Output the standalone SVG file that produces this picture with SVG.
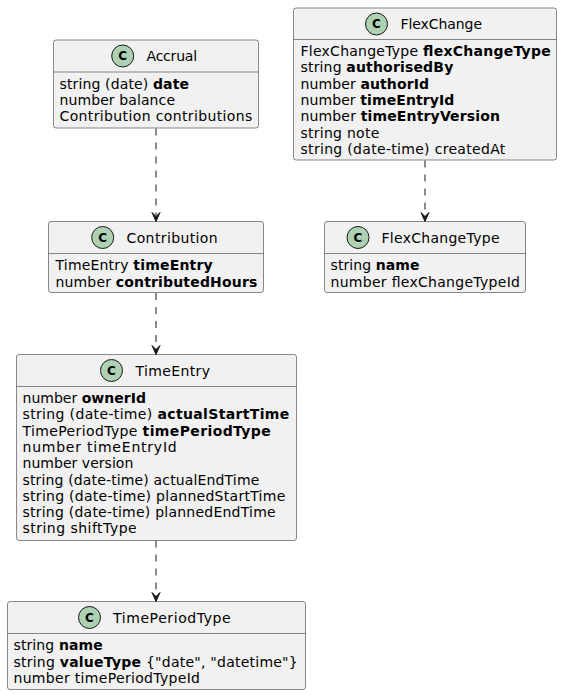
<svg xmlns="http://www.w3.org/2000/svg" width="562" height="695" viewBox="0 0 562 695">
<style>
.box{fill:#F1F1F1;stroke:#181818;stroke-width:0.5}
.sep{stroke:#181818;stroke-width:0.5}
.ic{fill:#ADD1B2;stroke:#181818;stroke-width:1}
.icl{font-family:"DejaVu Sans",sans-serif;font-size:12px;font-weight:bold;fill:#000;text-anchor:middle}
text{font-family:"DejaVu Sans",sans-serif;font-size:14px;fill:#000}
.b{font-weight:bold}
.conn{stroke:#181818;stroke-width:1;stroke-dasharray:7,7;fill:none}
.head{fill:#181818;stroke:#181818;stroke-width:1}
</style>
<rect width="562" height="695" fill="#FFFFFF"/>
<g id="Accrual">
<rect class="box" x="53.5" y="40" width="205" height="88" rx="2.5"/>
<circle class="ic" cx="122.7" cy="56" r="11"/><text class="icl" x="122.7" y="60.3">C</text>
<text x="146.5" y="61" textLength="50.6" lengthAdjust="spacing">Accrual</text>
<line class="sep" x1="53.5" y1="72" x2="258.5" y2="72"/>
<text x="59.5" y="88.8" textLength="129.5" lengthAdjust="spacing">string (date) <tspan class="b">date</tspan></text>
<text x="59.5" y="105.1" textLength="115.5" lengthAdjust="spacing">number balance</text>
<text x="59.5" y="121.4" textLength="192.8" lengthAdjust="spacing">Contribution contributions</text>
</g>
<g id="FlexChange">
<rect class="box" x="293.5" y="8" width="263" height="152" rx="2.5"/>
<circle class="ic" cx="376.5" cy="24" r="11"/><text class="icl" x="376.5" y="28.3">C</text>
<text x="400.5" y="29" textLength="81.5" lengthAdjust="spacing">FlexChange</text>
<line class="sep" x1="293.5" y1="39.5" x2="556.5" y2="39.5"/>
<text x="300.5" y="56" textLength="250.2" lengthAdjust="spacing">FlexChangeType <tspan class="b">flexChangeType</tspan></text>
<text x="300.5" y="72.3" textLength="152.8" lengthAdjust="spacing">string <tspan class="b">authorisedBy</tspan></text>
<text x="300.5" y="88.6" textLength="128.5" lengthAdjust="spacing">number <tspan class="b">authorId</tspan></text>
<text x="300.5" y="104.9" textLength="153.8" lengthAdjust="spacing">number <tspan class="b">timeEntryId</tspan></text>
<text x="300.5" y="121.2" textLength="199.5" lengthAdjust="spacing">number <tspan class="b">timeEntryVersion</tspan></text>
<text x="300.5" y="137.5" textLength="78.8" lengthAdjust="spacing">string note</text>
<text x="300.5" y="153.8" textLength="204.8" lengthAdjust="spacing">string (date-time) createdAt</text>
</g>
<g id="Contribution">
<rect class="box" x="48.5" y="221.5" width="215" height="71" rx="2.5"/>
<circle class="ic" cx="102.7" cy="237.5" r="11"/><text class="icl" x="102.7" y="241.8">C</text>
<text x="126.5" y="242.5" textLength="91.2" lengthAdjust="spacing">Contribution</text>
<line class="sep" x1="48.5" y1="253.5" x2="263.5" y2="253.5"/>
<text x="55.5" y="270.3" textLength="157.2" lengthAdjust="spacing">TimeEntry <tspan class="b">timeEntry</tspan></text>
<text x="55.5" y="286.6" textLength="201.8" lengthAdjust="spacing">number <tspan class="b">contributedHours</tspan></text>
</g>
<g id="FlexChangeType">
<rect class="box" x="324.5" y="221.5" width="201" height="71" rx="2.5"/>
<circle class="ic" cx="358" cy="237.5" r="11"/><text class="icl" x="358" y="241.8">C</text>
<text x="381.5" y="242.5" textLength="118" lengthAdjust="spacing">FlexChangeType</text>
<line class="sep" x1="324.5" y1="253.5" x2="525.5" y2="253.5"/>
<text x="330.5" y="270.3" textLength="89" lengthAdjust="spacing">string <tspan class="b">name</tspan></text>
<text x="330.5" y="286.6" textLength="189.5" lengthAdjust="spacing">number flexChangeTypeId</text>
</g>
<g id="TimeEntry">
<rect class="box" x="16.5" y="354.5" width="280" height="186" rx="2.5"/>
<circle class="ic" cx="111.5" cy="370.5" r="11"/><text class="icl" x="111.5" y="374.8">C</text>
<text x="135.5" y="375.5" textLength="74.5" lengthAdjust="spacing">TimeEntry</text>
<line class="sep" x1="16.5" y1="386.5" x2="296.5" y2="386.5"/>
<text x="22.5" y="403" textLength="123.5" lengthAdjust="spacing">number <tspan class="b">ownerId</tspan></text>
<text x="22.5" y="419.3" textLength="266.8" lengthAdjust="spacing">string (date-time) <tspan class="b">actualStartTime</tspan></text>
<text x="22.5" y="435.6" textLength="248.2" lengthAdjust="spacing">TimePeriodType <tspan class="b">timePeriodType</tspan></text>
<text x="22.5" y="451.9" textLength="154.2" lengthAdjust="spacing">number timeEntryId</text>
<text x="22.5" y="468.2" textLength="110.8" lengthAdjust="spacing">number version</text>
<text x="22.5" y="484.5" textLength="236.8" lengthAdjust="spacing">string (date-time) actualEndTime</text>
<text x="22.5" y="500.8" textLength="262.8" lengthAdjust="spacing">string (date-time) plannedStartTime</text>
<text x="22.5" y="517.1" textLength="253.2" lengthAdjust="spacing">string (date-time) plannedEndTime</text>
<text x="22.5" y="533.4" textLength="114.2" lengthAdjust="spacing">string shiftType</text>
</g>
<g id="TimePeriodType">
<rect class="box" x="7.5" y="601.5" width="298" height="88" rx="2.5"/>
<circle class="ic" cx="89.5" cy="617.5" r="11"/><text class="icl" x="89.5" y="621.8">C</text>
<text x="113" y="622.5" textLength="117.7" lengthAdjust="spacing">TimePeriodType</text>
<line class="sep" x1="7.5" y1="633.5" x2="305.5" y2="633.5"/>
<text x="13.5" y="650.3" textLength="89.2" lengthAdjust="spacing">string <tspan class="b">name</tspan></text>
<text x="13.5" y="666.6" textLength="284.2" lengthAdjust="spacing">string <tspan class="b">valueType</tspan> {"date", "datetime"}</text>
<text x="13.5" y="682.9" textLength="186.5" lengthAdjust="spacing">number timePeriodTypeId</text>
</g>
<g id="connectors">
<path class="conn" d="M156,128.5 L156,215.5"/>
<polygon class="head" points="156,221.5 160,212.5 156,216.5 152,212.5"/>
<path class="conn" d="M425,160.5 L425,215.5"/>
<polygon class="head" points="425,221.5 429,212.5 425,216.5 421,212.5"/>
<path class="conn" d="M156,293 L156,348.5"/>
<polygon class="head" points="156,354.5 160,345.5 156,349.5 152,345.5"/>
<path class="conn" d="M156,540.5 L156,595.5"/>
<polygon class="head" points="156,601.5 160,592.5 156,596.5 152,592.5"/>
</g>
</svg>
